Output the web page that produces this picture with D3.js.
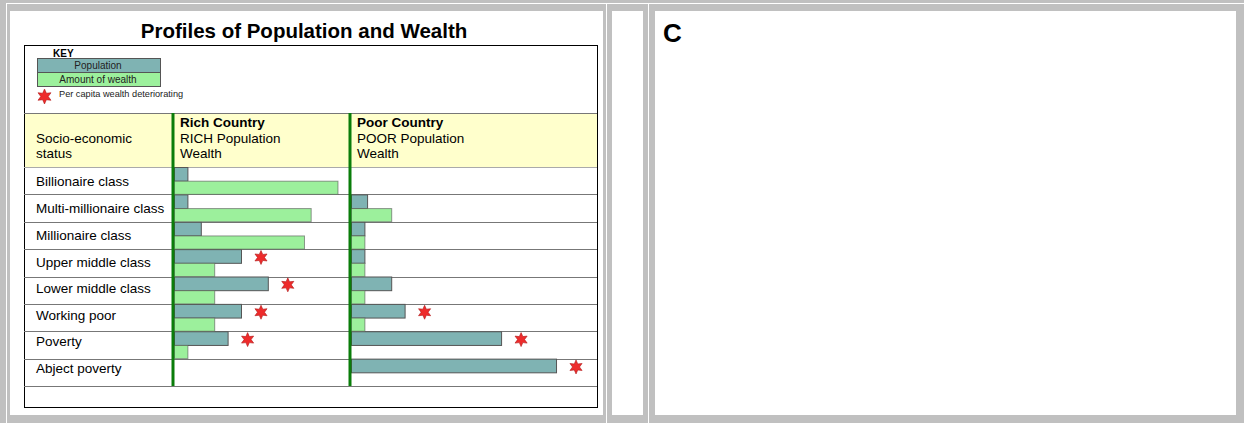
<!DOCTYPE html>
<html>
<head>
<meta charset="utf-8">
<script src="https://cdn.jsdelivr.net/npm/d3@7"></script>
<style>
  body { margin: 0; background: #c0c0c0; }
  svg { display: block; font-family: "Liberation Sans", Arial, sans-serif; }
</style>
</head>
<body>
<div id="area"></div>
<script>
const classes = ['Billionaire class', 'Multi-millionaire class', 'Millionaire class', 'Upper middle class',
                 'Lower middle class', 'Working poor', 'Poverty', 'Abject poverty']
const richPopulation = [1, 1, 2, 5, 7, 5, 4, 0]
const richWealth = [12.2, 10.2, 9.7, 3, 3, 3, 1, 0]
const richDeteriorating = [false, false, false, true, true, true, true, false]
const poorPopulation = [0, 1.2, 1, 1, 3, 4, 11.2, 15.3]
const poorWealth = [0, 3, 1, 1, 1, 1, 0, 0]
const poorDeteriorating = [false, false, false, false, false, true, true, true]
const countries = [
  { name: 'Rich Country', pop: 'RICH Population', x0: 174, line: 173 },
  { name: 'Poor Country', pop: 'POOR Population', x0: 351, line: 350 }
]

const svg = d3.select('#area')
              .append('svg')
              .attr('width', 1244)
              .attr('height', 423)

// frame borders (frameset look)
svg.append('rect').attr('width', 1244).attr('height', 423).attr('fill', '#c0c0c0')
svg.append('line').attr('x1', 6).attr('x2', 1244).attr('y1', 3.5).attr('y2', 3.5).attr('stroke', '#fff')
;[6.5, 606.5, 648.5].forEach(x => {
  svg.append('line').attr('x1', x).attr('x2', x).attr('y1', 3).attr('y2', 423).attr('stroke', '#fff')
})
const panels = [[10, 603], [612, 643], [655, 1236]]
svg.selectAll('rect.panel')
    .data(panels)
    .enter()
    .append('rect')
    .attr('class', 'panel')
    .attr('x', d => d[0])
    .attr('y', 11)
    .attr('width', d => d[1] - d[0])
    .attr('height', 404)
    .attr('fill', '#fff')

svg.append('text')
    .attr('x', 663).attr('y', 42)
    .style('font-size', '26px').style('font-weight', 'bold')
    .text('C')

// title
svg.append('text')
    .attr('x', 304).attr('y', 38)
    .attr('text-anchor', 'middle')
    .style('font-size', '20.5px').style('font-weight', 'bold')
    .text('Profiles of Population and Wealth')

const left = 24, right = 597
svg.append('rect')
    .attr('x', left + 0.5).attr('y', 45.5)
    .attr('width', right - left).attr('height', 362)
    .attr('fill', 'none').attr('stroke', '#000')

// key
const teal = '#7fb3b3', green = '#9cf09c', barStroke = '#555'
svg.append('text').attr('x', 53).attr('y', 57)
    .style('font-size', '10px').style('font-weight', 'bold').text('KEY')
const keyItems = [['Population', teal], ['Amount of wealth', green]]
keyItems.forEach((k, i) => {
  svg.append('rect')
      .attr('x', 37.5).attr('y', 58.5 + i * 14)
      .attr('width', 123).attr('height', 14)
      .attr('fill', k[1]).attr('stroke', barStroke)
  svg.append('text')
      .attr('x', 98).attr('y', 69 + i * 14)
      .attr('text-anchor', 'middle')
      .style('font-size', '10px').attr('fill', '#222')
      .text(k[0])
})

const starPath = r => {
  const pts = d3.range(12).map(i => [i * Math.PI / 6, i % 2 ? r * 0.5 : r])
  return d3.lineRadial().curve(d3.curveLinearClosed)(pts)
}
const addStar = (x, y, r) => {
  svg.append('path')
      .attr('d', starPath(r))
      .attr('transform', `translate(${x},${y})`)
      .attr('fill', '#ee2b2b').attr('stroke', '#b01818').attr('stroke-width', 0.6)
}
addStar(44.5, 96.5, 7.5)
svg.append('text').attr('x', 59).attr('y', 97)
    .style('font-size', '9.2px').attr('fill', '#222')
    .text('Per capita wealth deteriorating')

// header
svg.append('rect')
    .attr('x', left + 1).attr('y', 113)
    .attr('width', right - left - 1).attr('height', 54)
    .attr('fill', '#ffffcc')
svg.append('line').attr('x1', left).attr('x2', right).attr('y1', 113.5).attr('y2', 113.5).attr('stroke', '#777')

const hdr = svg.append('g').style('font-size', '13.5px')
hdr.append('text').attr('x', 36).attr('y', 143).text('Socio-economic')
hdr.append('text').attr('x', 36).attr('y', 158).text('status')
countries.forEach(c => {
  hdr.append('text').attr('x', c.line + 7).attr('y', 127).style('font-weight', 'bold').text(c.name)
  hdr.append('text').attr('x', c.line + 7).attr('y', 142.5).text(c.pop)
  hdr.append('text').attr('x', c.line + 7).attr('y', 158).text('Wealth')
})

// rows
const yScale = d3.scaleBand()
                .domain(classes)
                .range([167, 386])
const xScale = d3.scaleLinear()
                .domain([0, 16])
                .range([0, 214.4])
const bw = yScale.bandwidth()

svg.selectAll('line.row')
    .data(classes.concat(['end']))
    .enter()
    .append('line')
    .attr('class', 'row')
    .attr('x1', left).attr('x2', right)
    .attr('y1', (d, i) => Math.round(167 + i * bw) + 0.5)
    .attr('y2', (d, i) => Math.round(167 + i * bw) + 0.5)
    .attr('stroke', (d, i) => i === 0 ? '#aaa' : '#777')

svg.selectAll('text.label')
    .data(classes)
    .enter()
    .append('text')
    .attr('class', 'label')
    .attr('x', 36)
    .attr('y', (c, i) => yScale(c) + bw / 2 + 5 - (i > 2 ? (i - 2) * 0.9 : 0))
    .style('font-size', '13.5px')
    .text(c => c)

const drawCountry = (c, pop, wealth, flags) => {
  const g = svg.append('g')
  g.selectAll('rect.pop')
      .data(classes.filter((d, i) => pop[i] > 0))
      .enter()
      .append('rect')
      .attr('class', 'pop')
      .attr('x', c.x0 + 0.5)
      .attr('y', d => yScale(d) + 0.5)
      .attr('width', d => xScale(pop[classes.indexOf(d)]))
      .attr('height', bw / 2)
      .attr('fill', teal).attr('stroke', barStroke)
  g.selectAll('rect.wealth')
      .data(classes.filter((d, i) => wealth[i] > 0))
      .enter()
      .append('rect')
      .attr('class', 'wealth')
      .attr('x', c.x0 + 0.5)
      .attr('y', d => yScale(d) + bw / 2 + 0.5)
      .attr('width', d => xScale(wealth[classes.indexOf(d)]))
      .attr('height', bw / 2 - 0.5)
      .attr('fill', green).attr('stroke', barStroke).attr('stroke-opacity', 0.6)
  classes.forEach((d, i) => {
    if (flags[i]) addStar(c.x0 + xScale(pop[i]) + 20, yScale(d) + bw / 4 + 1.5, 7)
  })
  svg.append('line')
      .attr('x1', c.line).attr('x2', c.line)
      .attr('y1', 113).attr('y2', 386)
      .attr('stroke', '#0a7d0a').attr('stroke-width', 3)
}
drawCountry(countries[0], richPopulation, richWealth, richDeteriorating)
drawCountry(countries[1], poorPopulation, poorWealth, poorDeteriorating)
</script>
</body>
</html>
